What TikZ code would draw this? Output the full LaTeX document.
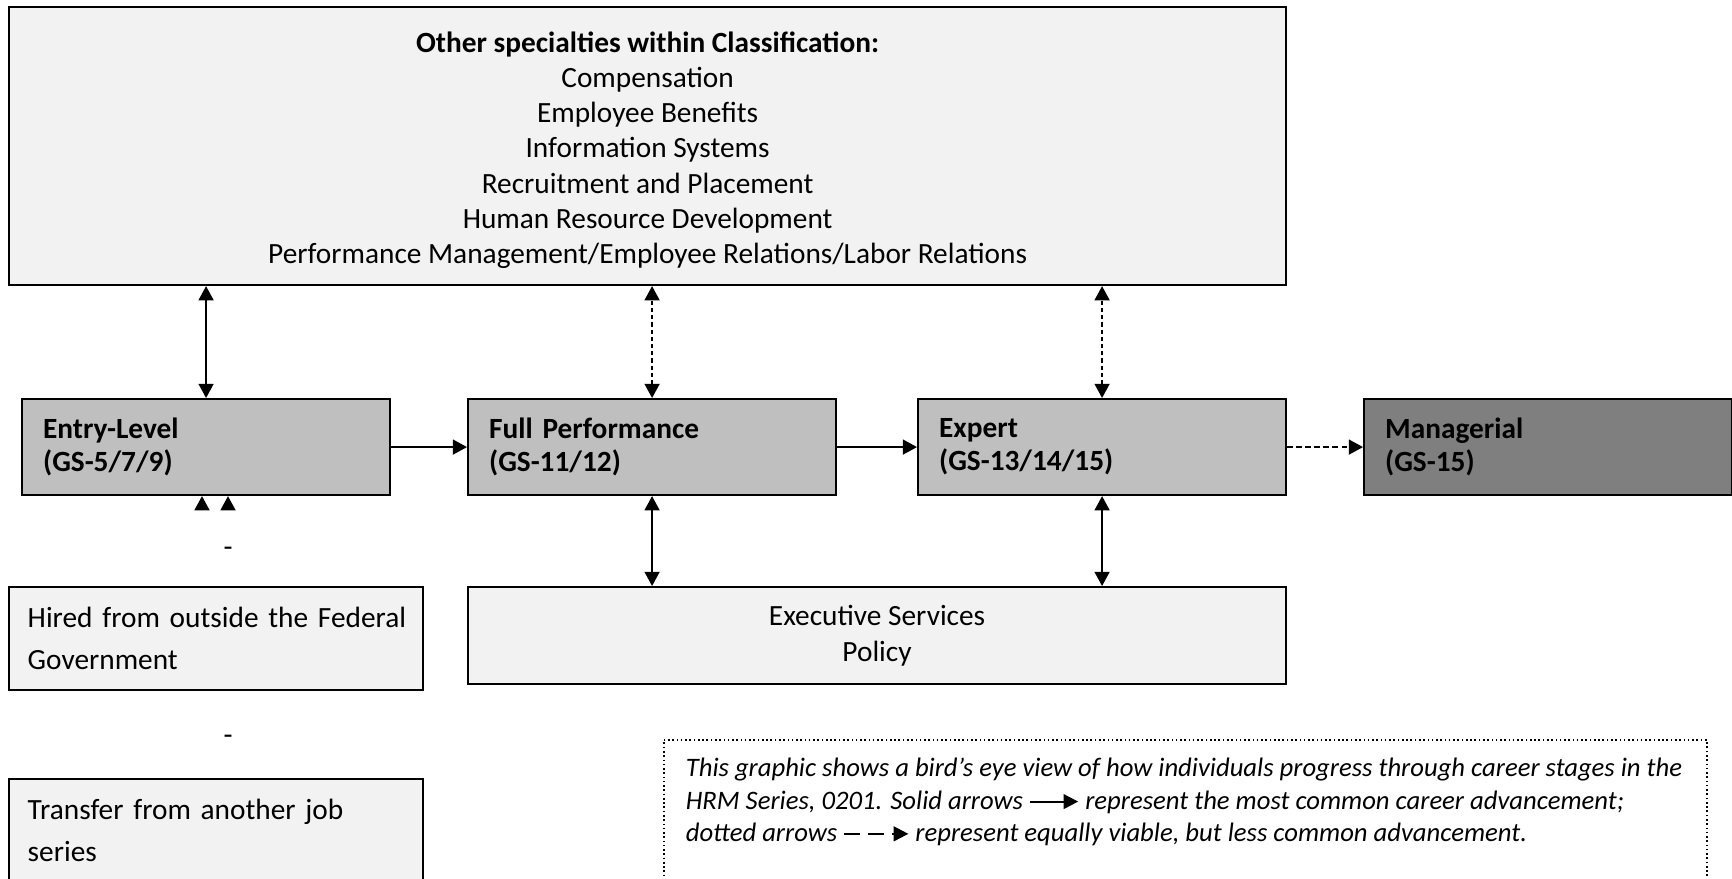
\documentclass[tikz,border=0pt]{standalone}
\usepackage{fontspec}
\setmainfont{Carlito}
\usetikzlibrary{arrows.meta}

\definecolor{paleGray}{HTML}{F2F2F2}
\definecolor{midGray}{HTML}{BFBFBF}
\definecolor{darkGray}{HTML}{7F7F7F}

\newcommand{\solidarr}{\tikz[baseline=-0.6ex]\draw[solid,line width=0.8pt,-{Triangle[length=5.5pt,width=5.5pt]}] (0pt,0pt) -- (18pt,0pt);}
\newcommand{\dashedarr}{\tikz[baseline=-0.6ex]\draw[line width=0.8pt,dash pattern=on 6pt off 3pt,-{Triangle[length=5.5pt,width=5.5pt]}] (0pt,0pt) -- (24pt,0pt);}

\tikzset{
  basebox/.style={draw, line width=0.8pt, anchor=north west, inner ysep=1pt},
  stagebox/.style={basebox, fill=midGray, align=left, text width=122.2pt, inner xsep=7.9pt,
    minimum height=36pt, font=\bfseries\fontsize{11}{12.4}\selectfont},
  sourcebox/.style={basebox, fill=paleGray, align=left, text width=141.2pt, inner xsep=7pt,
    minimum height=38.6pt, font=\fontsize{11}{15.75}\selectfont},
  oneway/.style={line width=0.6pt, -{Triangle[length=5.3pt,width=5.6pt]}},
  twoway/.style={line width=0.6pt, {Triangle[length=5.3pt,width=5.6pt]}-{Triangle[length=5.3pt,width=5.6pt]}},
  dashway/.style={dash pattern=on 1.6pt off 1.1pt}
}

\begin{document}
\begin{tikzpicture}[x=0.375pt,y=-0.375pt]
  \useasboundingbox (0,0) rectangle (1732,878);

  % specialties on top
  \node[basebox, fill=paleGray, align=center, inner sep=0pt, minimum width=478.9pt, minimum height=104.25pt,
    font=\fontsize{11}{13.2}\selectfont] (spec) at (8,6)
    {\rule{0pt}{10.8pt}\textbf{Other specialties within Classification:}\\Compensation\\Employee Benefits\\Information Systems\\
     Recruitment and Placement\\Human Resource Development\\Performance Management/Employee Relations/Labor Relations};

  % career stages
  \node[stagebox] (entry) at (21,398) {Entry-Level\\(GS-5/7/9)};
  \node[stagebox] (full) at (467,398) {Full Performance\\(GS-11/12)};
  \node[stagebox] (expert) at (917,398) {Expert\\(GS-13/14/15)};
  \node[stagebox, fill=darkGray] (mgr) at (1363,398) {Managerial\\(GS-15)};

  % ways in
  \node[sourcebox] (hired) at (8,586) {\mbox{Hired from outside the Federal}\\Government};
  \node[sourcebox] (transfer) at (8,778) {\mbox{Transfer from another job}\\series};
  \node[font=\fontsize{11}{13}\selectfont] (dashA) at (228,552) {-};
  \node[font=\fontsize{11}{13}\selectfont] (dashB) at (228,740) {-};
  \coordinate (inA) at (202,509);
  \coordinate (inB) at (228,509);

  \node[basebox, fill=paleGray, align=center, inner sep=0pt, minimum width=306.75pt, minimum height=36.4pt,
    font=\fontsize{11}{13.5}\selectfont] (exec) at (467,586) {Executive Services\\Policy};

  % legend
  \node[anchor=north west, draw, line width=0.6pt, dash pattern=on 0.6pt off 1pt, inner xsep=8.25pt, inner ysep=7pt,
    font=\itshape\fontsize{10}{12.1}\selectfont] (legend) at (663,739)
    {\begin{minipage}[t][46pt][t]{374.6pt}
     \mbox{This graphic shows a bird’s eye view of how individuals progress through career stages in the}\\
     \mbox{HRM Series, 0201. Solid arrows \solidarr{} represent the most common career advancement;}\\
     \mbox{dotted arrows \dashedarr{} represent equally viable, but less common advancement.}
     \end{minipage}};

  % connectors
  \draw[twoway] (entry.north) -- (entry.north |- spec.south);
  \draw[twoway, dashway] (full.north) -- (full.north |- spec.south);
  \draw[twoway, dashway] (expert.north) -- (expert.north |- spec.south);
  \draw[oneway] (entry.east) -- (full.west);
  \draw[oneway] (full.east) -- (expert.west);
  \draw[oneway, dash pattern=on 2.2pt off 1.2pt] (expert.east) -- (mgr.west);
  \draw[twoway] (full.south) -- (full.south |- exec.north);
  \draw[twoway] (expert.south) -- (expert.south |- exec.north);
  \draw[oneway] (inA) -- (inA |- entry.south);
  \draw[oneway] (inB) -- (inB |- entry.south);
\end{tikzpicture}
\end{document}
